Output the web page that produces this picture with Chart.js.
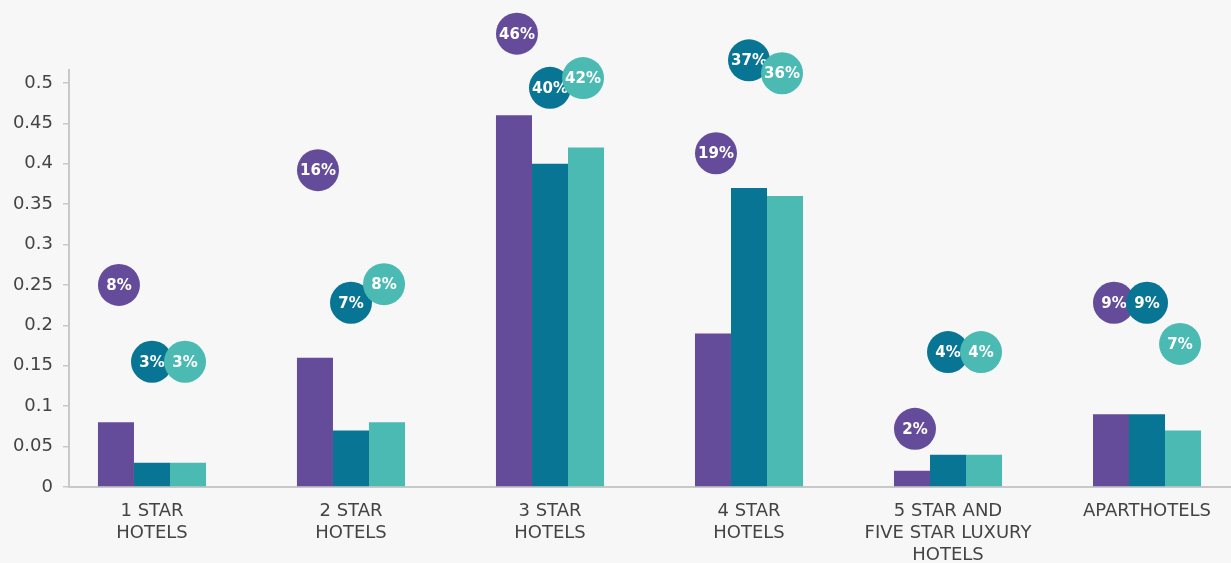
<!DOCTYPE html>
<html>
<head>
<meta charset="utf-8">
<script src="https://cdn.jsdelivr.net/npm/chart.js@4.4.1/dist/chart.umd.min.js"></script>
<style>
  html, body { margin: 0; padding: 0; background: #f7f7f7; }
  #wrap { width: 1231px; height: 563px; }
</style>
</head>
<body>
<div id="wrap"><canvas id="chart" width="1231" height="563"></canvas></div>
<script>
// Hotel categories (multi-line axis labels)
const categories = [
  ['1 STAR', 'HOTELS'],
  ['2 STAR', 'HOTELS'],
  ['3 STAR', 'HOTELS'],
  ['4 STAR', 'HOTELS'],
  ['5 STAR AND', 'FIVE STAR LUXURY', 'HOTELS'],
  ['APARTHOTELS']
];

// Share of each category, three series
const seriesPurple = [0.08, 0.16, 0.46, 0.19, 0.02, 0.09];
const seriesDeepTeal = [0.03, 0.07, 0.40, 0.37, 0.04, 0.09];
const seriesLightTeal = [0.03, 0.08, 0.42, 0.36, 0.04, 0.07];

// Height (axis units) at which each percentage badge floats
const badgeHeightPurple = [0.25, 0.392, 0.561, 0.413, 0.072, 0.228];
const badgeHeightDeepTeal = [0.155, 0.228, 0.494, 0.528, 0.167, 0.228];
const badgeHeightLightTeal = [0.155, 0.251, 0.506, 0.512, 0.167, 0.177];

const COLORS = { purple: '#654c9b', deep: '#087595', light: '#4abab3' };
const AXIS = '#c8c8c8';
const TEXT = '#444444';
const FONT = 'DejaVu Sans';

const barSet = (label, values, color) => ({
  type: 'bar',
  label,
  data: values.map((v, i) => ({ x: i, y: v })),
  backgroundColor: color,
  borderWidth: 0,
  order: 10
});

const badgeSet = (label, values, heights, shift, color, order) => ({
  type: 'scatter',
  label,
  shares: values,
  data: heights.map((h, i) => ({ x: i + shift, y: h })),
  pointRadius: 21,
  pointHoverRadius: 21,
  pointBackgroundColor: color,
  pointBorderWidth: 0,
  showLine: false,
  clip: false,
  order
});

// Badges may float above the plotting area, and each gets its text
// right after its circle so overlapping badges stack naturally.
let savedArea = null;
const badgeText = {
  id: 'badgeText',
  beforeDatasetDraw(chart, args) {
    const ds = chart.data.datasets[args.index];
    if (!ds.shares) return;
    savedArea = chart.chartArea;
    chart.chartArea = { left: 0, top: 0, right: chart.width, bottom: chart.height,
                        width: chart.width, height: chart.height };
  },
  afterDatasetDraw(chart, args) {
    const ds = chart.data.datasets[args.index];
    if (!ds.shares) return;
    if (savedArea) { chart.chartArea = savedArea; savedArea = null; }
    const ctx = chart.ctx;
    ctx.save();
    ctx.fillStyle = '#ffffff';
    ctx.font = 'bold 15px "' + FONT + '"';
    ctx.textAlign = 'center';
    ctx.textBaseline = 'middle';
    args.meta.data.forEach((pt, i) => {
      ctx.fillText(Math.round(ds.shares[i] * 100) + '%', pt.x, pt.y + 1);
    });
    ctx.restore();
  }
};

new Chart(document.getElementById('chart'), {
  type: 'bar',
  data: {
    datasets: [
      badgeSet('Purple share', seriesPurple, badgeHeightPurple, -0.166, COLORS.purple, 3),
      badgeSet('Deep teal share', seriesDeepTeal, badgeHeightDeepTeal, 0, COLORS.deep, 2),
      badgeSet('Light teal share', seriesLightTeal, badgeHeightLightTeal, 0.166, COLORS.light, 1),
      barSet('Purple', seriesPurple, COLORS.purple),
      barSet('Deep teal', seriesDeepTeal, COLORS.deep),
      barSet('Light teal', seriesLightTeal, COLORS.light)
    ]
  },
  options: {
    responsive: false,
    animation: false,
    events: [],
    layout: { autoPadding: false, padding: { top: 70, left: 0, right: 0, bottom: 0 } },
    datasets: { bar: { categoryPercentage: 0.543, barPercentage: 1 } },
    plugins: { legend: { display: false }, tooltip: { enabled: false } },
    scales: {
      x: {
        type: 'linear',
        min: -0.417,
        max: 5.422,
        offset: false,
        afterFit(scale) { scale.height = 76; },
        grid: { display: false, offset: false },
        border: { color: AXIS, width: 2 },
        ticks: {
          stepSize: 1,
          includeBounds: false,
          autoSkip: false,
          maxRotation: 0,
          padding: 6,
          color: TEXT,
          font: { family: FONT, size: 18, lineHeight: 1.2 },
          callback: (v) => Number.isInteger(v) ? categories[v] : ''
        }
      },
      y: {
        min: 0,
        max: 0.516,
        afterFit(scale) { scale.width = 69; },
        grid: { drawOnChartArea: false, tickLength: 6, color: AXIS, lineWidth: 1.5 },
        border: { color: AXIS, width: 2 },
        ticks: {
          stepSize: 0.05,
          includeBounds: false,
          padding: 10,
          color: TEXT,
          font: { family: FONT, size: 18 },
          callback: (v) => String(Math.round(v * 100) / 100)
        }
      }
    }
  },
  plugins: [badgeText]
});
</script>
</body>
</html>
